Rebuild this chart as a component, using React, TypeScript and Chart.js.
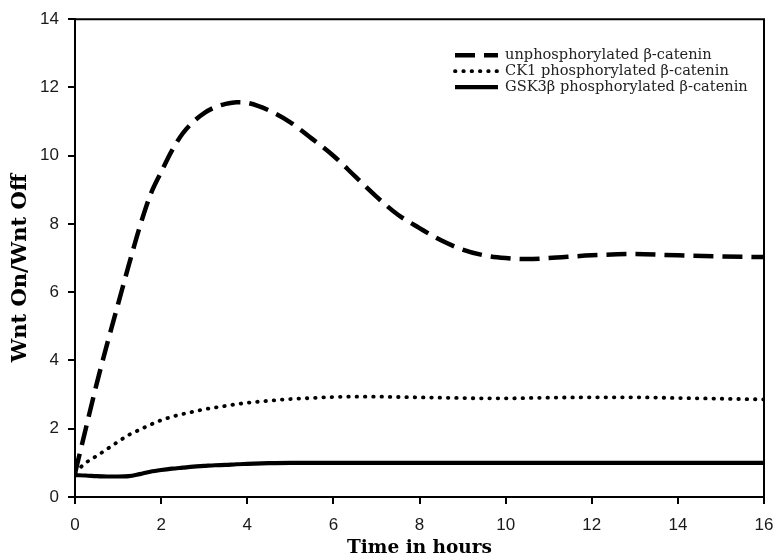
import React, { useEffect, useRef } from "react";
import { Chart, registerables } from "chart.js";

Chart.register(...registerables);

// Sample times (hours) shared by all three series
const hours = [
  0, 0.25, 0.5, 0.75, 1, 1.25, 1.5, 1.75, 2, 2.25, 2.5, 2.75, 3, 3.25, 3.5, 3.75,
  4, 4.5, 5, 5.5, 6, 6.5, 7, 7.5, 8, 8.5, 9, 9.5, 10, 10.5, 11, 12, 13, 14, 15, 16,
];

// Wnt On / Wnt Off ratios
const unphosphorylated = [
  0.7, 2.0, 3.3, 4.5, 5.65, 6.8, 7.9, 8.85, 9.52, 10.15, 10.65, 11.0, 11.25, 11.42,
  11.52, 11.57, 11.55, 11.33, 10.98, 10.5, 10.0, 9.4, 8.8, 8.27, 7.88, 7.52, 7.25,
  7.08, 7.0, 6.97, 7.0, 7.08, 7.12, 7.08, 7.05, 7.03,
];
const ck1Phosphorylated = [
  0.72, 1.0, 1.2, 1.41, 1.62, 1.82, 1.97, 2.12, 2.25, 2.35, 2.43, 2.5, 2.57, 2.62,
  2.67, 2.72, 2.76, 2.82, 2.87, 2.9, 2.93, 2.94, 2.94, 2.93, 2.92, 2.91, 2.9, 2.89,
  2.89, 2.9, 2.91, 2.92, 2.92, 2.9, 2.88, 2.86,
];
const gsk3Phosphorylated = [
  0.64, 0.63, 0.61, 0.6, 0.6, 0.61, 0.67, 0.74, 0.79, 0.83, 0.86, 0.89, 0.91, 0.93,
  0.94, 0.96, 0.97, 0.99, 1.0, 1.0, 1.0, 1.0, 1.0, 1.0, 1.0, 1.0, 1.0, 1.0, 1.0,
  1.0, 1.0, 1.0, 1.0, 1.0, 1.0, 1.0,
];

const seriesLabels = [
  "unphosphorylated β-catenin",
  "CK1 phosphorylated β-catenin",
  "GSK3β phosphorylated β-catenin",
];

const xTitle = "Time in hours";
const yTitle = "Wnt On/Wnt Off";

const toPoints = (values: number[]) => hours.map((h, i) => ({ x: h, y: values[i] }));

// Draws the top/right frame lines, the vertical axis title and the legend
const frameAndLegend = {
  id: "frameAndLegend",
  afterDraw(chart: any) {
    const { ctx, chartArea: a } = chart;
    ctx.save();
    ctx.strokeStyle = "#000";
    ctx.lineWidth = 2;
    ctx.beginPath();
    ctx.moveTo(a.left, a.top);
    ctx.lineTo(a.right, a.top);
    ctx.lineTo(a.right, a.bottom);
    ctx.stroke();

    // vertical axis title
    ctx.save();
    ctx.translate(21, (a.top + a.bottom) / 2 + 10);
    ctx.rotate(-Math.PI / 2);
    ctx.font = 'bold 21px "DejaVu Serif", serif';
    ctx.fillStyle = "#000";
    ctx.textAlign = "center";
    ctx.textBaseline = "middle";
    ctx.fillText(yTitle, 0, 0);
    ctx.restore();

    const x0 = a.left + 380;
    const x1 = x0 + 43;
    const tx = x1 + 7;
    chart.data.datasets.forEach((ds: any, i: number) => {
      const y = a.top + 36 + i * 16;
      ctx.strokeStyle = "#000";
      ctx.setLineDash(ds.borderDash || []);
      ctx.lineCap = ds.borderCapStyle || "butt";
      ctx.lineWidth = ds.borderWidth;
      ctx.beginPath();
      ctx.moveTo(x0, y);
      ctx.lineTo(x1, y);
      ctx.stroke();
      ctx.setLineDash([]);
      ctx.font = '14.6px "DejaVu Serif", serif';
      ctx.fillStyle = "#222";
      ctx.textBaseline = "middle";
      ctx.textAlign = "left";
      ctx.fillText(ds.label, tx, y);
    });
    ctx.restore();
  },
};

export default function App() {
  const canvasRef = useRef<HTMLCanvasElement | null>(null);

  useEffect(() => {
    if (!canvasRef.current) return;
    const tickFont = { family: '"Liberation Sans", Arial, sans-serif', size: 17 };
    const axisGrid = {
      drawOnChartArea: false,
      drawTicks: true,
      tickLength: 7,
      color: "#000",
      lineWidth: 2,
    };
    const chart = new Chart(canvasRef.current, {
      type: "line",
      data: {
        datasets: [
          {
            label: seriesLabels[0],
            data: toPoints(unphosphorylated),
            borderColor: "#000",
            borderWidth: 4.5,
            borderDash: [20, 9],
            borderCapStyle: "butt",
            pointRadius: 0,
            cubicInterpolationMode: "monotone",
            fill: false,
          },
          {
            label: seriesLabels[1],
            data: toPoints(ck1Phosphorylated),
            borderColor: "#000",
            borderWidth: 3.8,
            borderDash: [0.5, 7.8],
            borderCapStyle: "round",
            pointRadius: 0,
            cubicInterpolationMode: "monotone",
            fill: false,
          },
          {
            label: seriesLabels[2],
            data: toPoints(gsk3Phosphorylated),
            borderColor: "#000",
            borderWidth: 4.2,
            pointRadius: 0,
            cubicInterpolationMode: "monotone",
            fill: false,
          },
        ],
      },
      options: {
        responsive: false,
        animation: false,
        devicePixelRatio: 1,
        layout: { padding: { left: 0, top: 17, right: 14, bottom: 0 } },
        plugins: {
          legend: { display: false },
          tooltip: { enabled: false },
        },
        scales: {
          x: {
            type: "linear",
            min: 0,
            max: 16,
            ticks: { stepSize: 2, font: tickFont, color: "#1a1a1a", padding: 11, maxRotation: 0 },
            grid: axisGrid,
            border: { display: true, color: "#000", width: 2 },
            title: {
              display: true,
              text: xTitle,
              color: "#000",
              font: { family: '"DejaVu Serif", serif', size: 18.5, weight: "bold" },
              padding: { top: 0, bottom: 1 },
            },
            afterFit: (s: any) => {
              s.height = 63;
              s.paddingLeft = 0;
              s.paddingRight = 0;
            },
          },
          y: {
            min: 0,
            max: 14,
            ticks: { stepSize: 2, font: tickFont, color: "#1a1a1a", padding: 9 },
            grid: axisGrid,
            border: { display: true, color: "#000", width: 2 },
            afterFit: (s: any) => {
              s.width = 75;
            },
          },
        },
      },
      plugins: [frameAndLegend],
    } as any);
    return () => chart.destroy();
  }, []);

  return (
    <div
      style={{
        position: "fixed",
        left: 0,
        top: 0,
        width: 778,
        height: 560,
        background: "#fff",
      }}
    >
      <canvas ref={canvasRef} width={778} height={560} />
    </div>
  );
}
